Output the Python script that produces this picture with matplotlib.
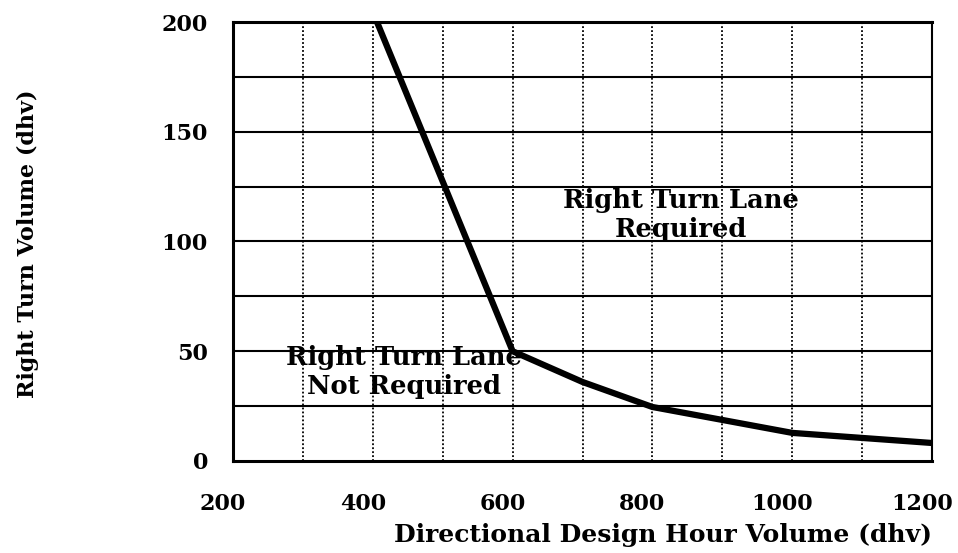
import matplotlib.pyplot as plt
from matplotlib.transforms import ScaledTranslation

# boundary curve
dhv = [406, 600, 700, 800, 900, 1000, 1100, 1200]
right_turn = [200, 50, 36, 24.6, 18.7, 12.8, 10.5, 8.2]

x_ticks = [200, 400, 600, 800, 1000, 1200]
y_ticks = [0, 50, 100, 150, 200]

font = {"family": "DejaVu Serif", "weight": "bold"}

fig = plt.figure(figsize=(9.58, 5.53), dpi=100)
ax = fig.add_axes([0.2432, 0.1664, 0.7297, 0.7938])

# grid: solid horizontals every 25, dotted verticals every 100
for y in range(25, 200, 25):
    ax.axhline(y, color="black", linewidth=1.5, zorder=1)
for x in range(300, 1200, 100):
    ax.axvline(x, color="black", linewidth=1.3, linestyle=(0, (1, 1.2)), zorder=1)

ax.plot(dhv, right_turn, color="black", linewidth=4.5, solid_capstyle="butt", zorder=3)

ax.set_xlim(200, 1200)
ax.set_ylim(0, 200)
ax.set_xticks(x_ticks)
ax.set_yticks(y_ticks)
ax.set_xticklabels([str(t) for t in x_ticks], fontsize=16, **font)
ax.set_yticklabels([str(t) for t in y_ticks], fontsize=16, **font)
ax.tick_params(axis="y", length=0, pad=18)
ax.tick_params(axis="x", length=0, pad=23)

# x labels sit a little left of their grid lines in the scan
shift = ScaledTranslation(-10 / 100, 0, fig.dpi_scale_trans)
for lab in ax.get_xticklabels():
    lab.set_transform(lab.get_transform() + shift)

for side in ["left", "bottom", "top"]:
    ax.spines[side].set_linewidth(2.2)
ax.spines["right"].set_linewidth(1.5)

ax.text(841, 112, "Right Turn Lane\nRequired", ha="center", va="center",
        fontsize=18.5, linespacing=1.2, zorder=4, **font)
ax.text(445, 40.5, "Right Turn Lane\nNot Required", ha="center", va="center",
        fontsize=18.5, linespacing=1.2, zorder=4, **font)

fig.text(0.9729, 0.033, "Directional Design Hour Volume (dhv)", ha="right", va="center",
         fontsize=18, **font)
fig.text(0.029, 0.56, "Right Turn Volume (dhv)", ha="center", va="center",
         rotation=90, fontsize=16, **font)

fig.savefig("out.png", dpi=100)
